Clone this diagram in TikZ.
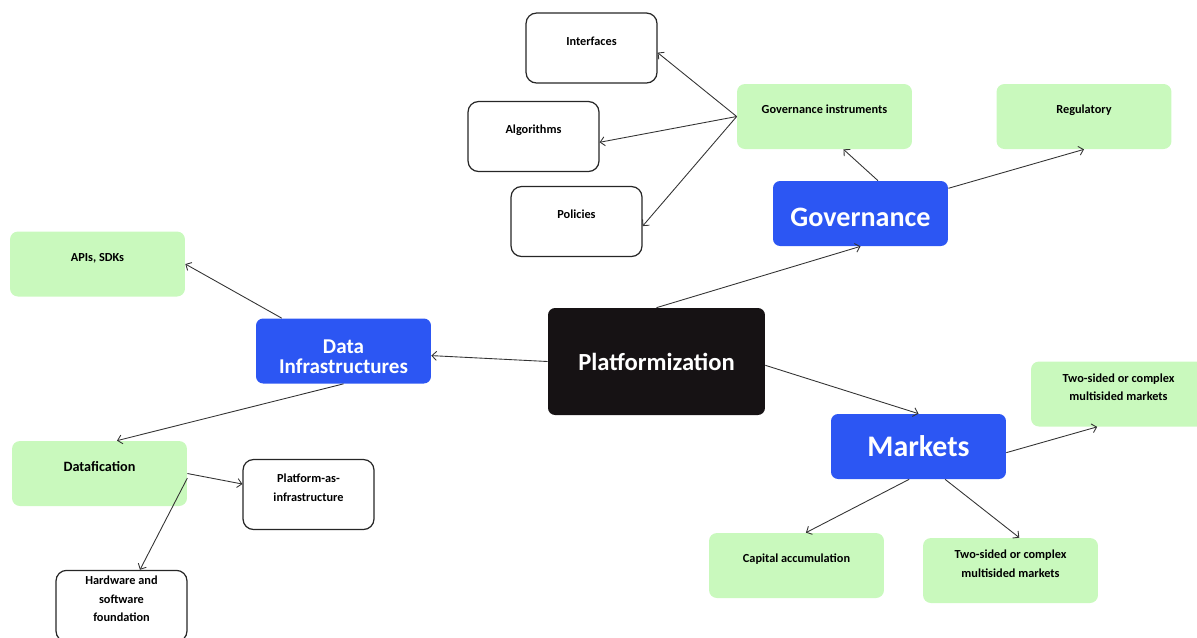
\documentclass[tikz,border=0pt]{standalone}
\usepackage{fontspec}
\setmainfont{Carlito}
\usetikzlibrary{arrows.meta}

\definecolor{leafgreen}{HTML}{C9F9BD}
\definecolor{hubblue}{HTML}{2C56F3}
\definecolor{coreblack}{HTML}{161214}

\tikzset{
    topic/.style={rectangle, align=center, font=\bfseries\fontsize{7}{10.5}\selectfont,
        execute at end node={\rule[-0.28cm]{0pt}{0pt}}},
    leaf/.style={topic, draw=black!85, line width=0.7pt, rounded corners=6pt,
        minimum width=2.62cm, minimum height=1.4cm},
    greenleaf/.style={topic, fill=leafgreen, rounded corners=4.5pt,
        minimum width=3.5cm, minimum height=1.3cm},
    hub/.style={rectangle, align=center, fill=hubblue, text=white, rounded corners=4pt,
        minimum width=3.5cm, minimum height=1.3cm, font=\bfseries\fontsize{16}{18}\selectfont},
    core/.style={rectangle, fill=coreblack, text=white, rounded corners=4pt,
        minimum width=4.34cm, minimum height=2.14cm, font=\bfseries\fontsize{14}{16}\selectfont},
    link/.style={draw=black!80, line width=0.5pt, -{Straight Barb[length=0.9mm,width=1.8mm]}}
}

\begin{document}
\begin{tikzpicture}[x=0.02cm, y=-0.02cm]
    \useasboundingbox (0,0) rectangle (1197,637);

    \node[core] (platform) at (656.5,361.5) {Platformization};

    % governance branch
    \node[hub, text height=0.53cm] (governance) at (860.5,213.5) {Governance};
    \node[greenleaf] (govinstr) at (824.5,116.5) {Governance instruments};
    \node[greenleaf] (regulatory) at (1084,116.5) {Regulatory};
    \node[leaf] (interfaces) at (591.5,48) {Interfaces};
    \node[leaf] (algorithms) at (533.5,136.5) {Algorithms};
    \node[leaf] (policies) at (576.5,221.5) {Policies};

    % data branch
    \node[hub, font=\bfseries\fontsize{12}{11.5}\selectfont, text height=0.92cm]
        (datainfra) at (343.5,351) {Data\\Infrastructures};
    \node[greenleaf] (apis) at (97.5,264) {APIs, SDKs};
    \node[greenleaf, font=\bfseries\fontsize{8.1}{10.5}\selectfont] (datafication) at (99.5,473.5) {Datafication};
    \node[leaf] (platinfra) at (308.5,494.5) {Platform-as-\\infrastructure};
    \node[leaf] (hardware) at (121.5,606) {Hardware and\\software\\foundation};

    % markets branch
    \node[hub, font=\bfseries\fontsize{17}{18}\selectfont] (markets) at (918.5,446.5) {Markets};
    \node[greenleaf] (twosidedtop) at (1118.5,394) {Two-sided or complex\\multisided markets};
    \node[greenleaf] (capital) at (796.5,565.5) {Capital accumulation};
    \node[greenleaf] (twosidedlow) at (1010.5,570.5) {Two-sided or complex\\multisided markets};

    \draw[link] (platform.north) -- (governance.south);
    \draw[link] (platform.west) -- (datainfra.-3);
    \draw[link] (platform.-2) -- (markets.north);

    \draw[link] (governance.62) -- (govinstr.-60);
    \draw[link] (governance.16) -- (regulatory.south);
    \draw[link] (govinstr.west) -- (interfaces.-4);
    \draw[link] (govinstr.west) -- (algorithms.-5);
    \draw[link] (govinstr.west) -- (policies.-4);

    \draw[link] (datainfra.152) -- (apis.east);
    \draw[link] (datainfra.south) -- (datafication.62);
    \draw[link] (datafication.east) -- (platinfra.171);
    \draw[link] (datafication.-3) -- (hardware.63);

    \draw[link] (markets.-4) -- (twosidedtop.-123);
    \draw[link] (markets.-106) -- (capital.74);
    \draw[link] (markets.-51) -- (twosidedlow.75);
\end{tikzpicture}
\end{document}
